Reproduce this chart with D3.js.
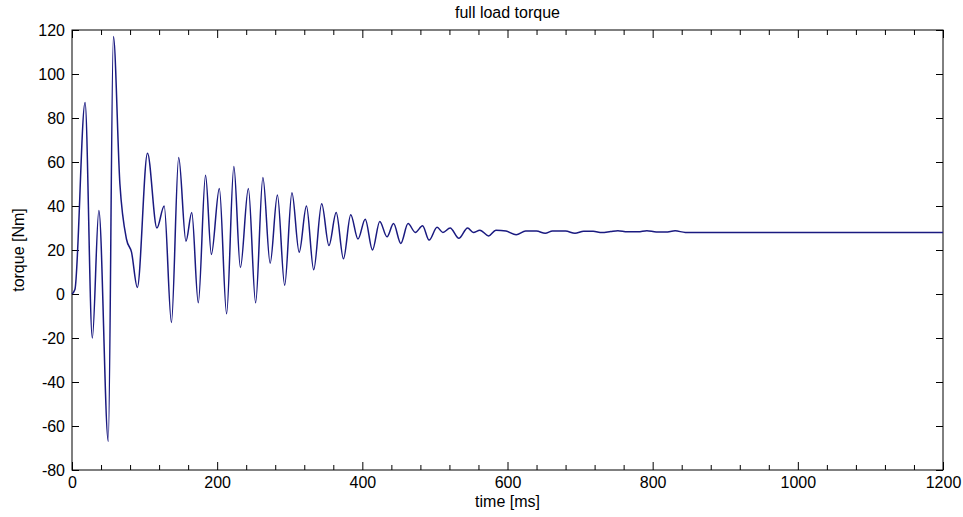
<!DOCTYPE html>
<meta charset="utf-8">
<script src="https://d3js.org/d3.v7.min.js"></script>
<style>
  body { margin: 0; background: #fff; }
  text { font-family: "Liberation Sans", Arial, sans-serif; fill: #000; }
</style>
<body>
<div id="chart"></div>
<script>

// time [ms] and torque [Nm] (peaks, troughs and a few shoulder points)
var timeMs = [0, 4, 18, 28, 37, 50, 57, 66, 75, 82, 90, 104, 117, 127, 137, 147, 157, 165, 174, 184,
  192, 203, 213, 223, 232, 243, 253, 263, 273, 283, 293, 303, 313, 323, 333, 344, 354, 364, 374, 384,
  394, 404, 414, 424, 434, 443, 453, 463, 473, 483, 492, 503, 511, 521, 533, 545, 553, 562, 574, 584,
  598, 612, 625, 640, 652, 662, 680, 693, 705, 718, 730, 742, 752, 765, 780, 792, 805, 818, 831, 845, 1200]
var torque = [0, 2, 87, -20, 38, -67, 117, 50, 25, 19, 3, 64, 30, 40, -13, 62, 24, 37, -4, 54,
  18, 48, -9, 58, 12, 48, -4, 53, 14, 45, 4, 46, 19, 40, 11, 41, 22, 37, 16, 36,
  25, 34, 20, 33, 26, 32, 23, 32, 28, 31, 24.5, 30.3, 28, 30, 25.3, 30, 28, 29, 26.4, 29,
  28.6, 26.9, 28.6, 28.6, 27.6, 28.6, 28.6, 27.6, 28.5, 28.5, 27.9, 28.4, 28.8, 28.3, 28.3, 28.8, 28.2, 28.2, 28.7, 28, 28]

var xTicks = [0, 200, 400, 600, 800, 1000, 1200]
var yTicks = [-80, -60, -40, -20, 0, 20, 40, 60, 80, 100, 120]

var width = 963, height = 517
var margin = {top: 30, right: 20, bottom: 47, left: 72}
var w = width - margin.left - margin.right
var h = height - margin.top - margin.bottom

var svg = d3.select("#chart").append("svg")
    .attr("width", width)
    .attr("height", height)

var g = svg.append("g")
    .attr("transform", "translate(" + margin.left + "," + margin.top + ")")

var x = d3.scaleLinear().domain([0, 1200]).range([0, w])
var y = d3.scaleLinear().domain([-80, 120]).range([h, 0])

// plain numbers, ascii minus, no thousands comma
var plain = function(d) { return String(d) }

// minor x ticks every 40 ms (not on the labelled ones)
var minor = d3.range(0, 1201, 40).filter(function(d) { return d % 200 != 0 })

function styleAxis(sel) {
  sel.select(".domain").remove()
  sel.selectAll("line").attr("stroke", "#000")
  sel.selectAll("text").style("font-size", "16px").attr("fill", "#000")
}

// bottom
g.append("g").attr("transform", "translate(0," + h + ")")
  .call(d3.axisBottom(x).tickValues(xTicks).tickFormat(plain).tickSizeInner(-8).tickSizeOuter(0).tickPadding(7))
  .call(styleAxis)
g.append("g").attr("transform", "translate(0," + h + ")")
  .call(d3.axisBottom(x).tickValues(minor).tickFormat("").tickSizeInner(-5).tickSizeOuter(0))
  .call(styleAxis)
// top
g.append("g")
  .call(d3.axisTop(x).tickValues(xTicks).tickFormat("").tickSizeInner(-8).tickSizeOuter(0))
  .call(styleAxis)
g.append("g")
  .call(d3.axisTop(x).tickValues(minor).tickFormat("").tickSizeInner(-5).tickSizeOuter(0))
  .call(styleAxis)
// left
g.append("g")
  .call(d3.axisLeft(y).tickValues(yTicks).tickFormat(plain).tickSizeInner(-7).tickSizeOuter(0).tickPadding(7))
  .call(styleAxis)
// right
g.append("g").attr("transform", "translate(" + w + ",0)")
  .call(d3.axisRight(y).tickValues(yTicks).tickFormat("").tickSizeInner(-7).tickSizeOuter(0))
  .call(styleAxis)

// box
g.append("rect")
  .attr("width", w)
  .attr("height", h)
  .attr("fill", "none")
  .attr("stroke", "#000")
  .attr("stroke-width", 1)

var line = d3.line()
  .x(function(d, i) { return x(timeMs[i]) })
  .y(function(d) { return y(d) })
  .curve(d3.curveMonotoneX)

g.append("path")
  .datum(torque)
  .attr("d", line)
  .attr("fill", "none")
  .attr("stroke", "#1a1a80")
  .attr("stroke-width", 1.5)

// title and axis labels
svg.append("text")
  .attr("x", margin.left + w / 2)
  .attr("y", 18)
  .attr("text-anchor", "middle")
  .style("font-size", "16px")
  .text("full load torque")

svg.append("text")
  .attr("x", margin.left + w / 2)
  .attr("y", 507)
  .attr("text-anchor", "middle")
  .style("font-size", "16px")
  .text("time [ms]")

svg.append("text")
  .attr("transform", "translate(24," + (margin.top + h / 2) + ") rotate(-90)")
  .attr("text-anchor", "middle")
  .style("font-size", "16px")
  .text("torque [Nm]")

</script>
</body>
</html>
